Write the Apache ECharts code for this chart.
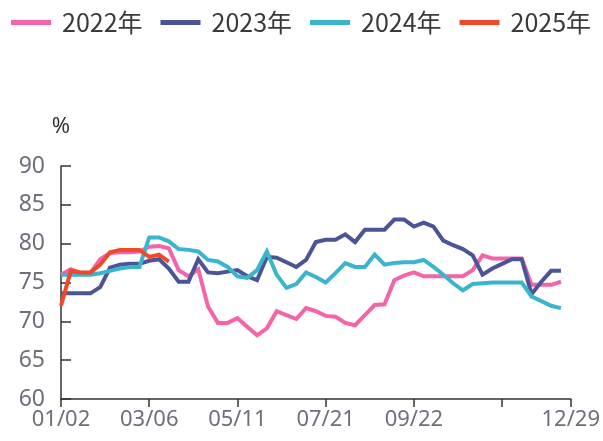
<!DOCTYPE html>
<html><head><meta charset="utf-8">
<script src="https://cdn.jsdelivr.net/npm/echarts@6/dist/echarts.min.js"></script>
<style>html,body{margin:0;padding:0;background:#fff}#c{width:603px;height:441px}</style>
</head><body><div id="c"></div>
<script>
const categories = ["01/02","01/09","01/16","01/23","01/30","02/06","02/13","02/20","02/27","03/06","03/13","03/20","03/27","04/03","04/10","04/17","04/24","05/01","05/11","05/18","05/25","06/01","06/08","06/15","06/22","06/29","07/06","07/21","07/28","08/04","08/11","08/18","08/25","09/01","09/08","09/15","09/22","09/29","10/09","10/13","10/20","10/27","11/03","11/07","11/10","11/17","11/21","11/24","12/01","12/08","12/15","12/22","12/29"];
const shownLabels = ["01/02","03/06","05/11","07/21","09/22","12/29"];
const tickLabels = ["01/02","03/06","05/11","07/21","09/22","11/17","12/29"];
const seriesNames = ["2022年","2023年","2024年","2025年"];
const y2022 = [76.0,76.7,76.2,76.2,78.0,78.8,78.9,78.9,79.0,79.6,79.7,79.4,76.6,75.8,76.7,71.9,69.8,69.8,70.4,69.3,68.2,69.1,71.3,70.8,70.3,71.7,71.3,70.7,70.6,69.8,69.5,70.8,72.1,72.2,75.3,75.9,76.3,75.8,75.8,75.8,75.8,75.8,76.6,78.5,78.1,78.1,78.1,78.1,74.7,74.7,74.7,75.1];
const y2023 = [73.6,73.6,73.6,73.6,74.4,76.9,77.3,77.4,77.4,77.8,78.0,76.8,75.1,75.1,78.0,76.3,76.2,76.4,76.6,75.8,75.3,78.3,78.2,77.6,77.0,77.9,80.2,80.5,80.5,81.2,80.2,81.8,81.8,81.8,83.1,83.1,82.2,82.7,82.2,80.4,79.8,79.3,78.5,76.0,76.8,77.4,78.0,78.0,73.5,75.1,76.5,76.5];
const y2024 = [76.0,76.0,76.0,76.0,76.2,76.5,76.8,77.0,77.0,80.8,80.8,80.3,79.3,79.2,79.0,77.9,77.7,77.0,75.8,75.6,76.6,79.0,76.0,74.3,74.8,76.3,75.7,75.0,76.2,77.5,77.0,77.0,78.6,77.3,77.5,77.6,77.6,77.9,77.0,76.0,74.9,74.0,74.8,74.9,75.0,75.0,75.0,75.0,73.2,72.6,72.0,71.7];
const y2025 = [72.0,76.5,76.3,76.3,77.3,78.9,79.2,79.2,79.2,78.3,78.6,77.7];
const yTicks = [60,65,70,75,80,85,90];
const colors = ["#f564a9","#4a5496","#39b5cd","#f2482a"];

const chart = echarts.init(document.getElementById('c'), null, {renderer:'canvas'});
const mk = (name, data, color, z) => ({
  name, type:'line', data, showSymbol:false, symbol:'none', z,
  lineStyle:{color, width:4, cap:'butt', join:'miter'}, itemStyle:{color},
  emphasis:{disabled:true}, animation:false
});
chart.setOption({
  animation:false,
  color: colors,
  legend:{
    left:6, top:5, itemWidth:40, itemHeight:5, itemGap:18, icon:'rect',
    textStyle:{fontFamily:'"Noto Sans CJK SC", "Noto Sans", sans-serif', fontSize:25, color:'#3a3a3a', padding:[0,0,0,6]},
    data: seriesNames
  },
  grid:{left:61, right:31, top:166, bottom:42, containLabel:false},
  xAxis:{
    type:'category', data:categories, boundaryGap:false,
    axisLine:{lineStyle:{color:'#333', width:1.5}},
    axisTick:{show:true, length:8, lineStyle:{color:'#333', width:1.5},
      interval:(i,v)=>tickLabels.includes(v)},
    axisLabel:{interval:(i,v)=>shownLabels.includes(v), margin:10, color:'#6e6e7c',
      fontFamily:'"Noto Sans", "Open Sans", sans-serif', fontSize:22,
      formatter:(v)=>v},
    splitLine:{show:false}
  },
  yAxis:{
    type:'value', min:60, max:90, interval:5,
    name:'%', nameLocation:'end', nameGap:28,
    nameTextStyle:{color:'#333', fontSize:22, fontFamily:'"Noto Sans", sans-serif', align:'center'},
    axisLine:{show:true, lineStyle:{color:'#333', width:1.5}},
    axisTick:{show:true, inside:true, length:10, lineStyle:{color:'#333', width:1.5}},
    axisLabel:{color:'#6e6e7c', fontSize:23, margin:16, fontFamily:'"Noto Sans", "Open Sans", sans-serif',
      formatter:(v)=> yTicks.includes(v) ? String(v) : ''},
    splitLine:{show:false}
  },
  series:[
    mk(seriesNames[0], y2022, colors[0], 1),
    mk(seriesNames[1], y2023, colors[1], 2),
    mk(seriesNames[2], y2024, colors[2], 3),
    mk(seriesNames[3], y2025, colors[3], 4)
  ]
});
</script></body></html>
